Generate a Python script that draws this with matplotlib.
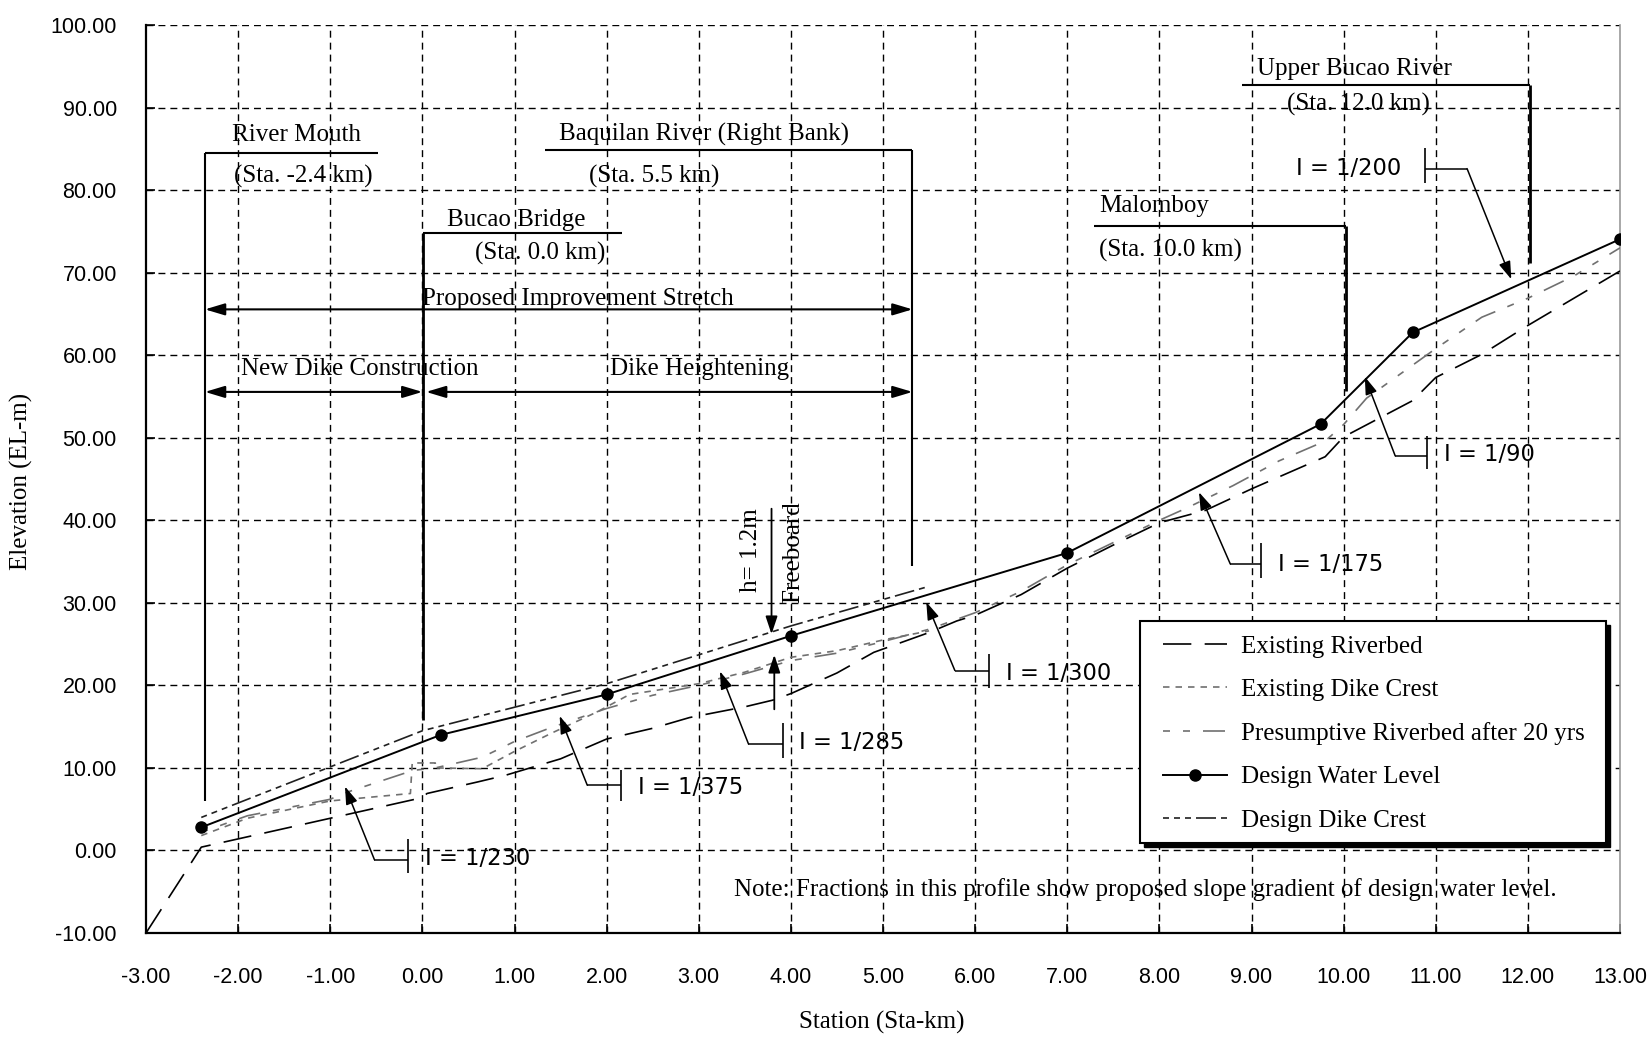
import numpy as np
import matplotlib
matplotlib.use('Agg')
import matplotlib.pyplot as plt
from matplotlib import font_manager as fm
from matplotlib.lines import Line2D
from matplotlib.patches import Rectangle

plt.rcParams['axes.unicode_minus'] = False

def has_font(name):
    try:
        fm.findfont(fm.FontProperties(family=name), fallback_to_default=False)
        return True
    except Exception:
        return False

SERIF = 'Liberation Serif'
if has_font('Liberation Sans Narrow'):
    TICKFONT, TICKSIZE = 'Liberation Sans Narrow', 17
else:
    TICKFONT, TICKSIZE = 'Liberation Sans', 15.5
SLOPEFONT = 'DejaVu Sans'

# ---------------- data ----------------
x_ticks = [-3, -2, -1, 0, 1, 2, 3, 4, 5, 6, 7, 8, 9, 10, 11, 12, 13]
y_ticks = [-10, 0, 10, 20, 30, 40, 50, 60, 70, 80, 90, 100]

# Design Water Level
wl_x = [-2.4, 0.2, 2.0, 4.0, 7.0, 9.75, 10.75, 13.0]
wl_y = [2.8, 14.0, 18.9, 26.0, 36.05, 51.65, 62.75, 74.05]

# Design Dike Crest
dc_x = [-2.4, 0.0, 2.0, 4.0, 5.5]
dc_y = [4.0, 14.5, 20.2, 27.2, 32.0]

# Existing Riverbed
rb_x = [-3.0, -2.4, 0.0, 0.05, 0.6, 0.9, 1.5, 2.0, 2.5, 2.9, 3.5, 3.8, 4.0, 4.5, 4.9,
        5.5, 5.8, 6.0, 6.5, 7.0, 7.5, 8.0, 8.5, 9.0, 9.8, 10.0, 10.75, 11.0, 11.5, 12.0, 13.0]
rb_y = [-10.0, 0.4, 6.4, 6.9, 8.3, 9.1, 11.1, 13.5, 14.8, 16.1, 17.4, 18.2, 19.0, 21.5, 24.0,
        26.4, 27.8, 28.5, 31.0, 34.2, 37.0, 39.7, 41.2, 43.8, 47.7, 50.1, 54.5, 57.3, 60.1, 63.6, 70.2]

# Existing Dike Crest
ed_x = [-2.4, -1.9, -1.0, -0.13, -0.11, 0.14, 0.14, 0.65, 1.0, 1.4, 1.9, 2.25, 3.0, 3.5,
        4.0, 4.5, 5.0, 5.5]
ed_y = [1.8, 3.9, 6.0, 6.9, 10.6, 10.6, 10.0, 9.9, 12.0, 14.2, 16.8, 18.9, 20.2, 21.6,
        23.4, 24.2, 25.5, 26.6]

# Presumptive Riverbed after 20 yrs
pr_x = [-2.4, -1.9, -1.0, -0.86, -0.1, 0.14, 0.65, 1.0, 1.4, 2.0, 2.5, 3.0, 3.5, 4.0, 4.5,
        5.0, 5.5, 6.0, 6.5, 7.0, 7.5, 8.0, 8.3, 8.8, 9.3, 9.8, 10.0, 10.25, 10.5, 11.0, 11.5,
        12.0, 12.5, 13.0]
pr_y = [2.2, 4.2, 6.2, 6.9, 9.7, 10.0, 11.3, 13.2, 14.9, 17.2, 18.8, 20.0, 21.4, 23.0, 23.9,
        25.3, 26.8, 28.8, 31.4, 34.6, 37.3, 40.0, 41.5, 44.2, 47.2, 49.6, 51.6, 54.8, 56.8, 60.8,
        64.6, 66.9, 69.6, 73.0]

# Slope gradient markers
slope_labels = ['I = 1/230', 'I = 1/375', 'I = 1/285', 'I = 1/300', 'I = 1/175', 'I = 1/90', 'I = 1/200']
slope_text_x = [0.03, 2.34, 4.09, 6.33, 9.29, 11.09, 9.48]
slope_text_y = [-1.82, 6.85, 12.3, 20.6, 33.9, 47.2, 81.84]
slope_bar_x = [-0.16, 2.16, 3.91, 6.155, 9.10, 10.91, 10.88]
slope_bar_y0 = [1.4, 9.8, 15.4, 23.8, 37.2, 50.2, 85.05]
slope_bar_y1 = [-2.7, 6.0, 11.2, 19.7, 33.0, 46.2, 80.8]
slope_h_y = [-1.13, 7.9, 12.9, 21.8, 34.7, 47.8, 82.6]
slope_elbow_x = [-0.52, 1.79, 3.54, 5.78, 8.77, 10.56, 11.34]
slope_tip_x = [-0.84, 1.49, 3.23, 5.47, 8.43, 10.23, 11.82]
slope_tip_y = [7.75, 16.3, 21.7, 30.1, 43.4, 57.4, 69.2]

# ---------------- figure ----------------
fig = plt.figure(figsize=(16.52, 10.40), dpi=100)
W, H = 1652, 1040
ax = fig.add_axes([146 / W, 1 - 933 / H, (1620 - 146) / W, (933 - 25) / H])
ax.set_xlim(-3, 13)
ax.set_ylim(-10, 100)

# grid
gstyle = dict(color='black', lw=1.0, ls=(0, (5, 3.6)), zorder=0.5)
for gx in x_ticks[1:-1]:
    ax.axvline(gx, **gstyle)
for gy in y_ticks[1:]:
    ax.axhline(gy, **gstyle)

ax.spines['top'].set_visible(False)
ax.spines['right'].set_color('#999999')
ax.spines['right'].set_linewidth(1.2)
ax.spines['left'].set_linewidth(1.6)
ax.spines['bottom'].set_linewidth(1.6)

ax.set_xticks(x_ticks)
ax.set_yticks(y_ticks)
ax.set_xticklabels(['%.2f' % v for v in x_ticks], fontfamily=TICKFONT, fontsize=TICKSIZE)
ax.set_yticklabels(['%.2f' % v for v in y_ticks], fontfamily=TICKFONT, fontsize=TICKSIZE)
ax.tick_params(axis='x', direction='in', length=6.5, width=1.2, pad=24.5)
ax.tick_params(axis='y', direction='in', length=6.5, width=1.2, pad=21)
ax.tick_params(right=False, top=False)

# data lines
ax.plot(rb_x, rb_y, color='black', lw=1.2, dashes=(17, 8), zorder=3)
ax.plot(ed_x, ed_y, color='#707070', lw=1.2, dashes=(3.9, 3.6), zorder=3)
ax.plot(pr_x, pr_y, color='#707070', lw=1.2, dashes=(4.2, 7.8, 4.2, 7.8, 13.2, 7.8), zorder=3)
ax.plot(wl_x, wl_y, color='black', lw=1.4, marker='o', ms=8, zorder=4)
ax.plot(dc_x, dc_y, color='#202020', lw=1.2, dashes=(3.6, 3, 3.6, 3, 3.6, 3, 12, 3), zorder=3)

# ---------------- annotations ----------------
def seg(xs, ys, lw=1.5):
    ax.plot(xs, ys, color='black', lw=lw, solid_capstyle='butt', zorder=5)

TFS = 18
def stxt(x, y, s, ha='center', **kw):
    ax.text(x, y, s, ha=ha, va='baseline', fontfamily=SERIF, fontsize=TFS, zorder=6, **kw)

# River Mouth
seg([-2.36, -0.48], [84.45, 84.45])
seg([-2.36, -2.36], [84.45, 6.0])
stxt(-1.37, 85.9, 'River Mouth')
stxt(-1.29, 80.9, '(Sta. -2.4 km)')

# Baquilan River
seg([1.33, 5.32], [84.8, 84.8])
seg([5.32, 5.32], [84.8, 34.4])
stxt(3.06, 85.95, 'Baquilan River (Right Bank)')
stxt(2.52, 80.9, '(Sta. 5.5 km)')

# Bucao Bridge
seg([0.01, 2.17], [74.8, 74.8])
seg([0.01, 0.01], [74.8, 15.8], lw=2.0)
stxt(1.02, 75.6, 'Bucao Bridge')
stxt(1.28, 71.6, '(Sta. 0.0 km)')

# Malomboy
seg([7.29, 10.03], [75.7, 75.7])
seg([10.03, 10.03], [75.7, 55.7], lw=2.0)
stxt(7.345, 77.3, 'Malomboy', ha='left')
stxt(7.345, 71.9, '(Sta. 10.0 km)', ha='left')

# Upper Bucao River
seg([8.90, 12.02], [92.7, 92.7])
seg([12.02, 12.02], [92.7, 71.2], lw=2.0)
stxt(9.06, 94.0, 'Upper Bucao River', ha='left')
stxt(9.38, 89.6, '(Sta. 12.0 km)', ha='left')

def darrow(x0, x1, y):
    ax.annotate('', xy=(x1, y), xytext=(x0, y),
                arrowprops=dict(arrowstyle='<|-|>,head_length=1.0,head_width=0.3',
                                mutation_scale=12, lw=1.5, color='black',
                                shrinkA=0, shrinkB=0), zorder=5)

darrow(-2.36, 5.32, 65.55)
stxt(0.0, 66.1, 'Proposed Improvement Stretch', ha='left')
darrow(-2.36, 0.0, 55.55)
darrow(0.04, 5.32, 55.55)
stxt(-1.97, 57.6, 'New Dike Construction', ha='left')
stxt(2.04, 57.6, 'Dike Heightening', ha='left')

# Freeboard
def arrow(x0, y0, x1, y1, lw=1.1, ms=12):
    ax.annotate('', xy=(x1, y1), xytext=(x0, y0),
                arrowprops=dict(arrowstyle='-|>,head_length=0.9,head_width=0.3',
                                mutation_scale=ms, lw=lw, color='black',
                                shrinkA=0, shrinkB=0), zorder=5)

arrow(3.79, 41.4, 3.79, 26.2, lw=1.3)
arrow(3.82, 17.1, 3.82, 23.7, lw=1.3)
ax.text(3.57, 36.4, 'h= 1.2m', rotation=90, ha='center', va='center',
        fontfamily=SERIF, fontsize=TFS, zorder=6)
ax.text(4.03, 36.1, 'Freeboard', rotation=90, ha='center', va='center',
        fontfamily=SERIF, fontsize=TFS, zorder=6)

# slope markers
for i, lab in enumerate(slope_labels):
    seg([slope_bar_x[i], slope_bar_x[i]], [slope_bar_y0[i], slope_bar_y1[i]], lw=1.2)
    seg([slope_bar_x[i], slope_elbow_x[i]], [slope_h_y[i], slope_h_y[i]], lw=1.1)
    arrow(slope_elbow_x[i], slope_h_y[i], slope_tip_x[i], slope_tip_y[i])
    ax.text(slope_text_x[i], slope_text_y[i], lab, ha='left', va='baseline',
            fontfamily=SLOPEFONT, fontsize=16.3, zorder=6)

stxt(3.38, -5.5, 'Note: Fractions in this profile show proposed slope gradient of design water level.',
     ha='left')

# axis labels
fig.text(882 / W, 1 - 1022 / H, 'Station (Sta-km)', ha='center', va='center',
         fontfamily=SERIF, fontsize=TFS)
fig.text(21 / W, 1 - 481 / H, 'Elevation (EL-m)', ha='center', va='center', rotation=90,
         fontfamily=SERIF, fontsize=TFS)

# legend frame with shadow
fig.patches.append(Rectangle((1144 / W, 1 - 847 / H), 466 / W, 222 / H,
                             transform=fig.transFigure, facecolor='black', edgecolor='black',
                             zorder=2))
fig.patches.append(Rectangle((1140 / W, 1 - 843 / H), 466 / W, 222 / H,
                             transform=fig.transFigure, facecolor='white', edgecolor='black',
                             lw=1.5, zorder=3))

handles = [
    Line2D([], [], color='black', lw=1.2, dashes=(17, 8)),
    Line2D([], [], color='#707070', lw=1.2, dashes=(3.9, 3.6)),
    Line2D([], [], color='#707070', lw=1.2, dashes=(4.2, 7.8, 4.2, 7.8, 13.2, 7.8)),
    Line2D([], [], color='black', lw=1.4, marker='o', ms=8),
    Line2D([], [], color='#202020', lw=1.2, dashes=(3.6, 3, 3.6, 3, 3.6, 3, 12, 3)),
]
labels = ['Existing Riverbed', 'Existing Dike Crest', 'Presumptive Riverbed after 20 yrs',
          'Design Water Level', 'Design Dike Crest']
leg = fig.legend(handles, labels, loc='upper left', bbox_to_anchor=(1163 / W, 1 - 635 / H),
                 bbox_transform=fig.transFigure, frameon=False, borderpad=0, borderaxespad=0,
                 handlelength=2.55, handletextpad=0.57, labelspacing=0.84,
                 prop={'family': SERIF, 'size': 18})
leg.set_zorder(5)

fig.savefig('out.png', dpi=100)
